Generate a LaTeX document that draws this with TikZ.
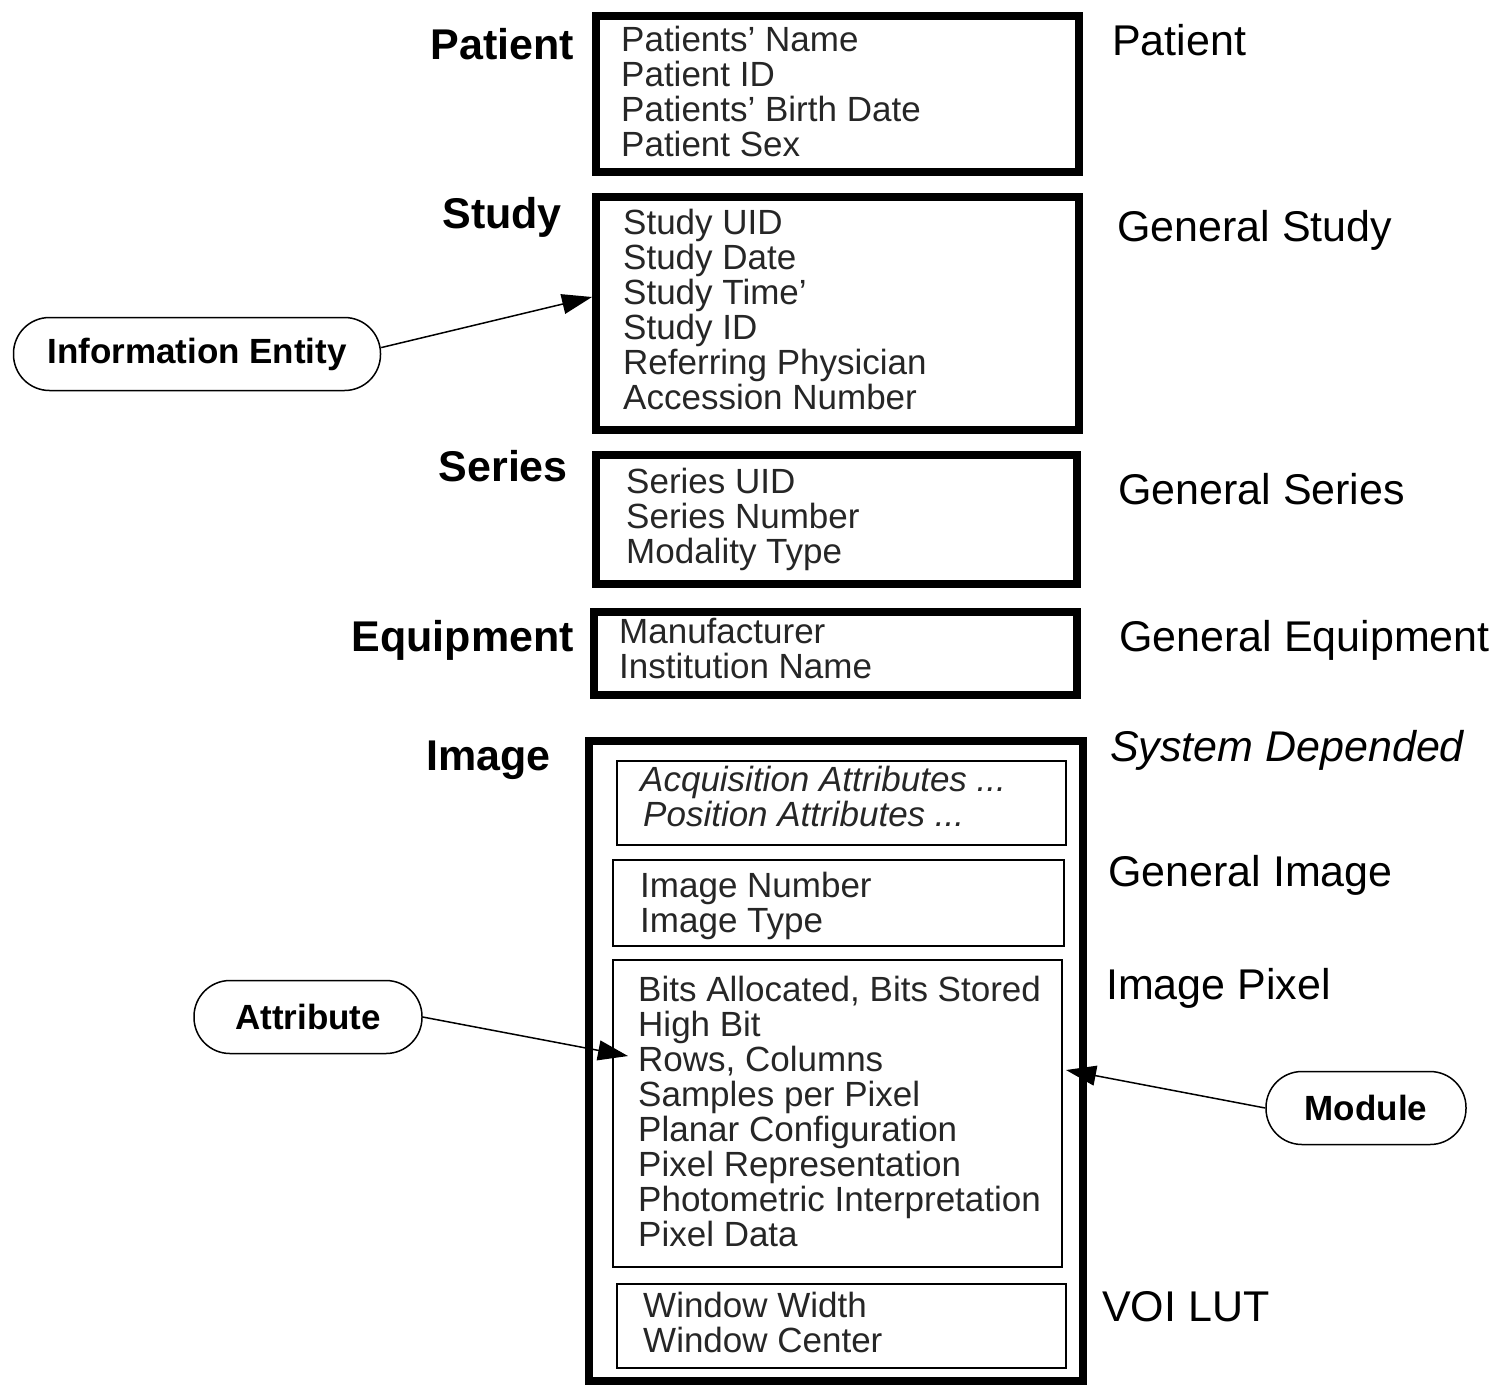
\documentclass[tikz,border=0pt]{standalone}
\usepackage{fontspec}
\setmainfont{Liberation Sans}
\usetikzlibrary{arrows.meta}
\tikzset{
  entbox/.style={draw, line width=8pt, inner sep=0pt},
  modbox/.style={draw, line width=2pt, inner sep=0pt},
  attrs/.style={font=\fontsize{35}{35}\selectfont, text=black!85, align=left, anchor=west, inner sep=0pt},
  ielabel/.style={font=\bfseries\fontsize{43}{43}\selectfont, anchor=east, inner sep=0pt},
  modlabel/.style={font=\fontsize{43}{43}\selectfont, anchor=west, inner sep=0pt},
  tag/.style={draw, line width=1.5pt, rounded corners=36pt, minimum height=73pt, font=\bfseries\fontsize{35}{35}\selectfont},
  pointer/.style={-{Triangle[length=30pt,width=20pt]}, line width=1.5pt}
}
\begin{document}
\begin{tikzpicture}[x=1pt,y=-1pt]
  \useasboundingbox (0,0) rectangle (1503,1385);
  % information entities
  \node[entbox, minimum width=483pt, minimum height=156pt] (patient) at (837.5,94) {};
  \node[entbox, minimum width=483pt, minimum height=233pt] (study) at (837.5,313.5) {};
  \node[entbox, minimum width=481pt, minimum height=129pt] (series) at (836.5,519.5) {};
  \node[entbox, minimum width=483pt, minimum height=83pt] (equip) at (835.5,653.5) {};
  \node[entbox, minimum width=494pt, minimum height=640pt] (image) at (836,1061) {};
  % modules of the image
  \node[modbox, minimum width=449pt, minimum height=84pt] (acq) at (841.5,803) {};
  \node[modbox, minimum width=451pt, minimum height=86pt] (genimg) at (838.5,903) {};
  \node[modbox, minimum width=449pt, minimum height=307pt] (pixel) at (837.5,1113.5) {};
  \node[modbox, minimum width=449pt, minimum height=84pt] (voi) at (841.5,1326) {};
  % attributes
  \node[attrs] (patienttxt) at (621,91) {Patients' Name\\Patient ID\\Patients' Birth Date\\Patient Sex};
  \node[attrs] (studytxt) at (623,309) {Study UID\\Study Date\\Study Time'\\Study ID\\Referring Physician\\Accession Number};
  \node[attrs] (seriestxt) at (626,519) {Series UID\\Series Number\\Modality Type};
  \node[attrs] (equiptxt) at (619,648) {Manufacturer\\Institution Name};
  \node[attrs, font=\itshape\fontsize{35}{35}\selectfont] (acqtxt) at (640,796) {Acquisition Attributes ...\\\hspace{3pt}Position Attributes ...};
  \node[attrs] (genimgtxt) at (640,906) {Image Number\\Image Type};
  \node[attrs] (pixeltxt) at (638,1111) {Bits Allocated, Bits Stored\\High Bit\\Rows, Columns\\Samples per Pixel\\Planar Configuration\\Pixel Representation\\Photometric Interpretation\\Pixel Data};
  \node[attrs] (voitxt) at (643,1322) {Window Width\\Window Center};
  % entity names
  \node[ielabel] (lpatient) at (574,44) {Patient};
  \node[ielabel] (lstudy) at (562,217) {Study};
  \node[ielabel] (lseries) at (568,466) {Series};
  \node[ielabel] (lequip) at (574,640) {Equipment};
  \node[ielabel] (limage) at (551,760) {Image};
  % module names
  \node[modlabel] (rpatient) at (1112,40) {Patient};
  \node[modlabel] (rstudy) at (1117,230) {General Study};
  \node[modlabel] (rseries) at (1118,489) {General Series};
  \node[modlabel] (requip) at (1119,640) {General Equipment};
  \node[modlabel, font=\itshape\fontsize{43}{43}\selectfont] (racq) at (1110,750) {System Depended};
  \node[modlabel] (rgenimg) at (1108,875) {General Image};
  \node[modlabel] (rpixel) at (1106,988) {Image Pixel};
  \node[modlabel] (rvoi) at (1102,1307) {VOI LUT};
  % legend tags
  \node[tag, minimum width=367pt] (infoent) at (197,354) {Information Entity};
  \node[tag, minimum width=228pt] (attrib) at (308,1017) {Attribute};
  \node[tag, minimum width=200pt] (module) at (1366,1108) {Module};
  \coordinate (studyin) at (592,297);
  \coordinate (pixelin) at (628,1056);
  \coordinate (pixelout) at (1066,1070);
  \draw[pointer] (infoent.2.5) -- (studyin);
  \draw[pointer] (attrib.east) -- (pixelin);
  \draw[pointer] (module.west) -- (pixelout);
\end{tikzpicture}
\end{document}
